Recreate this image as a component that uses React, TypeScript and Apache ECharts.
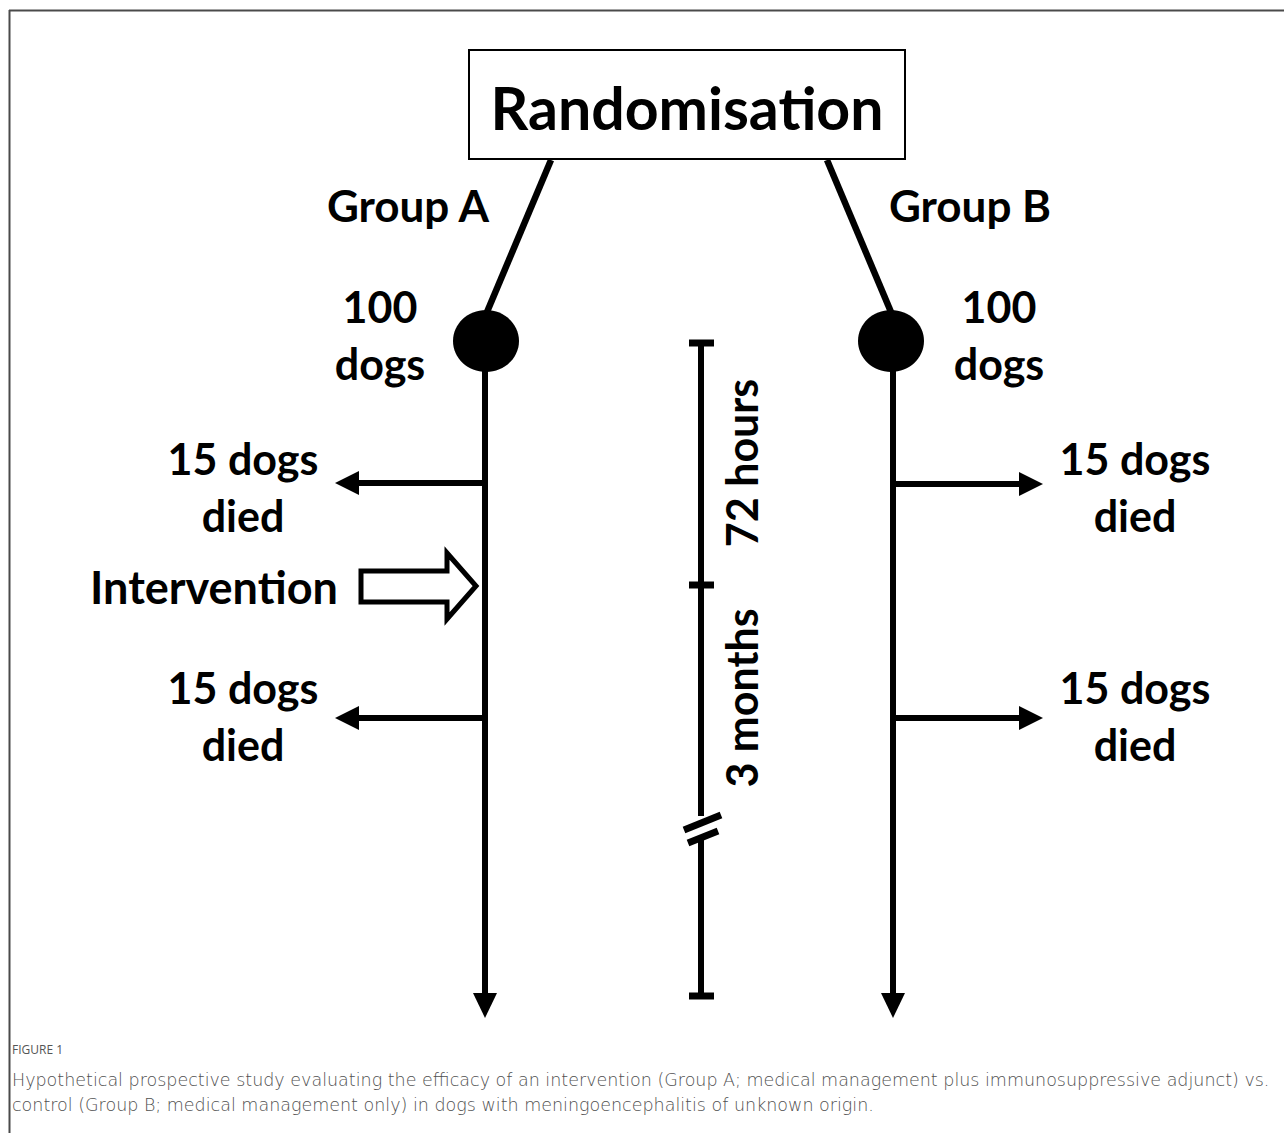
import React, { useEffect, useRef } from "react";
import * as echarts from "echarts";

const titleText = "Randomisation";
const groupLabels = ["Group A", "Group B"];
const enrolledCounts = [100, 100];
const deaths72h = [15, 15];
const deaths3m = [15, 15];
const periodLabels = ["72 hours", "3 months"];
const interventionLabel = "Intervention";
const captionHead = "FIGURE 1";
const captionLines = [
  "Hypothetical prospective study evaluating the efficacy of an intervention (Group A; medical management plus immunosuppressive adjunct) vs.",
  "control (Group B; medical management only) in dogs with meningoencephalitis of unknown origin.",
];

const FONT = "Lato, 'Open Sans', 'DejaVu Sans', sans-serif";
const INK = "#000";

function txt(text: string, x: number, y: number, size: number, extra: any = {}) {
  return {
    type: "text",
    x,
    y,
    silent: true,
    ...extra,
    style: {
      text,
      fontSize: size,
      fontWeight: "bold",
      fontFamily: FONT,
      fill: INK,
      align: "center",
      verticalAlign: "middle",
      ...(extra.style || {}),
    },
  };
}

function ln(x1: number, y1: number, x2: number, y2: number, w: number, color = INK) {
  return {
    type: "line",
    silent: true,
    shape: { x1, y1, x2, y2 },
    style: { stroke: color, lineWidth: w, lineCap: "butt" },
  };
}

function poly(points: number[][], style: any) {
  return { type: "polygon", silent: true, shape: { points }, style };
}

export default function App() {
  const ref = useRef<HTMLDivElement>(null);
  useEffect(() => {
    document.body.style.margin = "0";
    document.documentElement.style.overflow = "hidden";
    if (!ref.current) return;
    const chart = echarts.init(ref.current, undefined, { renderer: "svg" });

    const els: any[] = [];
    // frame
    els.push(ln(9, 10.5, 1284, 10.5, 2, "#4a4a4a"));
    els.push(ln(9.5, 10, 9.5, 1133, 2, "#4a4a4a"));

    // randomisation box
    els.push({
      type: "rect",
      silent: true,
      shape: { x: 469, y: 50, width: 436, height: 109 },
      style: { fill: "#fff", stroke: INK, lineWidth: 2 },
    });
    els.push(txt(titleText, 687, 107, 59));

    const lineX = [485, 893];
    const diagTop = [551, 827];
    const side = [-1, 1];
    const labelX = [408, 970];
    const countX = [380, 999];
    const deathX = [243, 1135];
    const deathY = [[483, 718], [484, 718]];

    for (let g = 0; g < 2; g++) {
      const x = lineX[g];
      // diagonal
      els.push(ln(diagTop[g], 160, x + (g === 0 ? 2 : -2), 312, 6.5));
      // node
      els.push({
        type: "ellipse",
        silent: true,
        shape: { cx: x + (g === 0 ? 1 : -2), cy: 341, rx: 33, ry: 31 },
        style: { fill: INK },
      });
      // vertical
      els.push(ln(x, 341, x, 996, 6));
      els.push(poly([[x - 12, 993], [x + 12, 993], [x, 1018]], { fill: INK }));
      // group label
      els.push(txt(groupLabels[g], labelX[g], 205, 44));
      els.push(txt(String(enrolledCounts[g]), countX[g], 306, 43));
      els.push(txt("dogs", countX[g], 363, 43));
      // death arrows
      const counts = [deaths72h[g], deaths3m[g]];
      for (let k = 0; k < 2; k++) {
        const y = deathY[g][k];
        const tip = x + side[g] * 150;
        const base = tip - side[g] * 24;
        els.push(ln(x, y, base + side[g] * 2, y, 6));
        els.push(poly([[base, y - 12], [base, y + 12], [tip, y]], { fill: INK }));
        const ty = k === 0 ? 458 : 687;
        els.push(txt(counts[k] + " dogs", deathX[g], ty, 43));
        els.push(txt("died", deathX[g], ty + 57, 43));
      }
    }

    // intervention hollow arrow
    els.push(
      poly(
        [[361, 571], [447, 571], [447, 553], [476, 586], [447, 619], [447, 602], [361, 602]],
        { fill: "#fff", stroke: INK, lineWidth: 5, lineJoin: "miter" }
      )
    );
    els.push(txt(interventionLabel, 214, 587, 45));

    // timeline
    const tx = 701;
    els.push(ln(tx, 343, tx, 816, 6));
    els.push(ln(tx, 837, tx, 996, 6));
    for (const cy of [343, 585, 996]) els.push(ln(689, cy, 714, cy, 7));
    els.push(ln(684, 830, 721, 815, 7));
    els.push(ln(688, 843, 718, 831, 7));
    els.push(txt(periodLabels[0], 741, 463, 43, { rotation: Math.PI / 2 }));
    els.push(txt(periodLabels[1], 741, 698, 43, { rotation: Math.PI / 2 }));

    // caption
    els.push({
      type: "text",
      silent: true,
      x: 12,
      y: 1049,
      style: {
        text: captionHead,
        fontSize: 12,
        fontFamily: "'Open Sans', sans-serif",
        fill: "#555",
        align: "left",
        verticalAlign: "middle",
      },
    });
    captionLines.forEach((t, i) => {
      els.push({
        type: "text",
        silent: true,
        x: 12,
        y: 1080 + i * 25,
        style: {
          text: t,
          fontSize: 17.5,
          fontWeight: 200,
          fontFamily: "'DejaVu Sans', sans-serif",
          fill: "#505050",
          align: "left",
          verticalAlign: "middle",
        },
      });
    });

    chart.setOption({ animation: false, graphic: { elements: els } });
    return () => chart.dispose();
  }, []);
  return <div ref={ref} style={{ width: 1284, height: 1133 }} />;
}
